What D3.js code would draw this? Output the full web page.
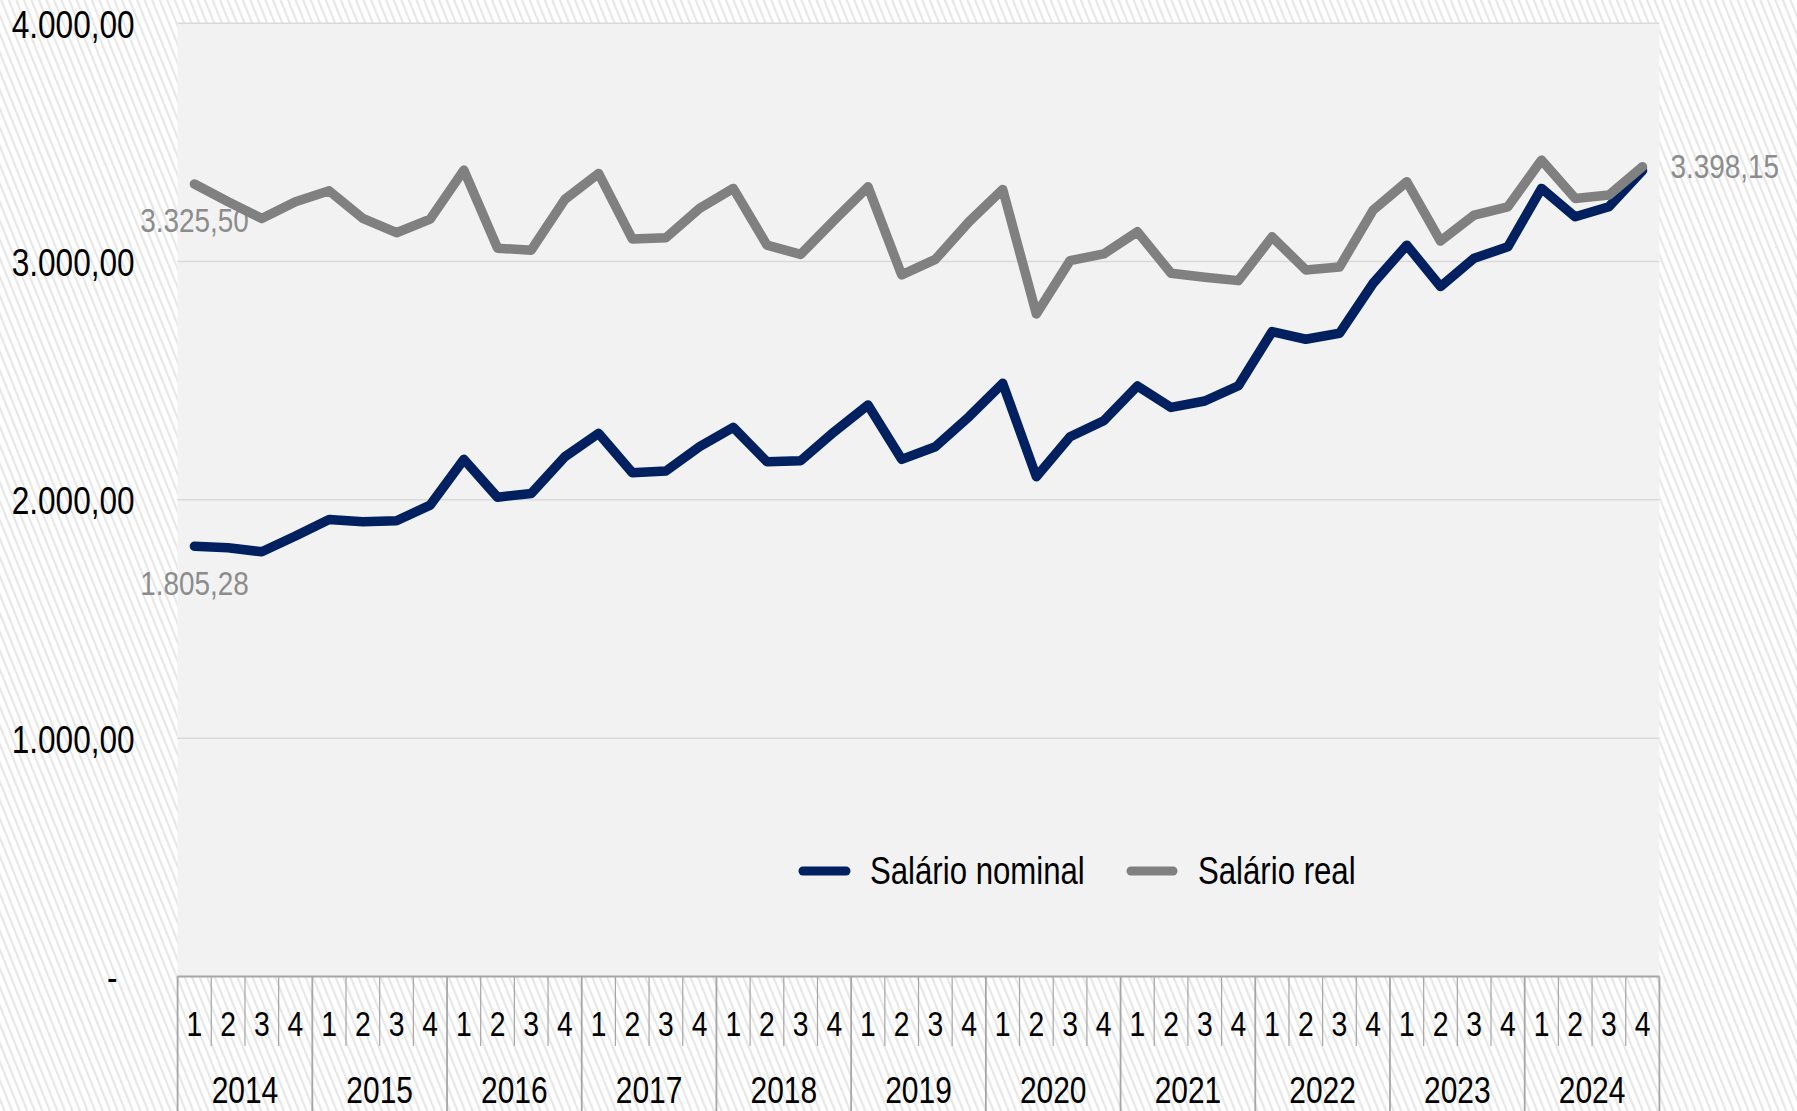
<!DOCTYPE html>
<html>
<head>
<meta charset="utf-8">
<script src="https://cdn.jsdelivr.net/npm/d3@7"></script>
<style>
  html, body { margin: 0; padding: 0; background: #fff; overflow: hidden; }
  svg { display: block; }
</style>
</head>
<body>
<svg id="chart" width="1797" height="1111"></svg>
<script>
// ---------------- DATA ----------------
const years = ["2014","2015","2016","2017","2018","2019","2020","2021","2022","2023","2024"];
const quarters = ["1","2","3","4"];
const salarioNominal = [
  1805.28, 1799, 1782, 1848,
  1918, 1908, 1912, 1978,
  2170, 2011, 2027, 2181,
  2279, 2114, 2121, 2223,
  2304, 2160, 2164, 2286,
  2398, 2170, 2223, 2349,
  2489, 2097, 2265, 2332,
  2478, 2388, 2415, 2479,
  2706, 2674, 2699, 2909,
  3069, 2895, 3014, 3062,
  3307, 3188, 3230, 3382
];
const salarioReal = [
  3325.50, 3251, 3181, 3251,
  3297, 3181, 3121, 3178,
  3384, 3056, 3048, 3261,
  3370, 3095, 3100, 3223,
  3307, 3069, 3030, 3174,
  3314, 2944, 3009, 3167,
  3303, 2780, 3004, 3032,
  3125, 2951, 2934, 2920,
  3104, 2965, 2977, 3216,
  3335, 3086, 3195, 3230,
  3426, 3265, 3279, 3398.15
];
const yTicks = [0, 1000, 2000, 3000, 4000];
const seriesNames = ["Salário nominal", "Salário real"];
const seriesColors = ["#002060", "#808080"];

// ---------------- LAYOUT ----------------
const W = 1797, H = 1111;
const plot = { left: 177.6, right: 1659.4, top: 23.3, bottom: 976.4 };
const FONT = "'Liberation Sans Narrow','Arial Narrow','Liberation Sans',Arial,sans-serif";

const categories = [];
years.forEach(y => quarters.forEach(q => categories.push({ year: y, q: q })));

const svg = d3.select("#chart");

// background hatch
const defs = svg.append("defs");
const pat = defs.append("pattern")
  .attr("id", "hatch")
  .attr("patternUnits", "userSpaceOnUse")
  .attr("width", 7).attr("height", 20)
  .attr("patternTransform", "rotate(-22)");
pat.append("rect").attr("width", 7).attr("height", 20).attr("fill", "#ffffff");
pat.append("rect").attr("width", 2.2).attr("height", 20).attr("fill", "#e7e7e7");
svg.append("rect").attr("width", W).attr("height", H).attr("fill", "url(#hatch)");

// scales
const x = d3.scaleBand().domain(d3.range(categories.length)).range([plot.left, plot.right]).padding(0);
const cx = i => x(i) + x.bandwidth() / 2;
const y = d3.scaleLinear().domain([0, 4000]).range([plot.bottom, plot.top]);

// plot area
svg.append("rect")
  .attr("x", plot.left).attr("y", plot.top)
  .attr("width", plot.right - plot.left).attr("height", plot.bottom - plot.top)
  .attr("fill", "#f2f2f2");

// gridlines
svg.append("g").selectAll("line")
  .data(yTicks.filter(d => d > 0))
  .join("line")
  .attr("x1", plot.left).attr("x2", plot.right)
  .attr("y1", d => y(d)).attr("y2", d => y(d))
  .attr("stroke", "#d9d9d9").attr("stroke-width", 1.5);

// y axis
const loc = d3.formatLocale({ decimal: ",", thousands: ".", grouping: [3], currency: ["R$", ""] });
const fmt = loc.format(",.2f");
const yAxis = svg.append("g")
  .attr("transform", `translate(${plot.left},0)`)
  .call(d3.axisLeft(y).tickValues(yTicks).tickSize(0).tickPadding(43)
    .tickFormat(d => d === 0 ? "-" : fmt(d)));
yAxis.select(".domain").remove();
yAxis.selectAll("text")
  .attr("font-family", FONT).attr("font-size", 38.5).attr("fill", "#000")
  .attr("dy", "0.36em");
yAxis.selectAll(".tick").filter(d => d === 0).select("text").attr("x", -60);

// category table (x axis)
const tableColor = "#a6a6a6";
const tbl = svg.append("g");
tbl.append("line")
  .attr("x1", plot.left).attr("x2", plot.right)
  .attr("y1", plot.bottom).attr("y2", plot.bottom)
  .attr("stroke", tableColor).attr("stroke-width", 2);
// separators
const sepIdx = d3.range(categories.length + 1);
tbl.selectAll("line.sep")
  .data(sepIdx)
  .join("line")
  .attr("class", "sep")
  .attr("x1", i => i < categories.length ? x(i) : plot.right)
  .attr("x2", i => i < categories.length ? x(i) : plot.right)
  .attr("y1", plot.bottom)
  .attr("y2", i => (i % quarters.length === 0) ? H : 1046)
  .attr("stroke", tableColor)
  .attr("stroke-width", i => (i % quarters.length === 0) ? 1.8 : 1.2);
// quarter labels
tbl.selectAll("text.q")
  .data(categories)
  .join("text")
  .attr("class", "q")
  .attr("x", (d, i) => cx(i)).attr("y", 1036)
  .attr("text-anchor", "middle")
  .attr("font-family", FONT).attr("font-size", 34.5).attr("fill", "#000")
  .text(d => d.q);
// year labels
tbl.selectAll("text.yr")
  .data(years)
  .join("text")
  .attr("class", "yr")
  .attr("x", (d, j) => (x(j * 4) + x(j * 4 + 3) + x.bandwidth()) / 2)
  .attr("y", 1103)
  .attr("text-anchor", "middle")
  .attr("font-family", FONT).attr("font-size", 36.5).attr("fill", "#000")
  .text(d => d);

// data labels (under the lines)
const lblColor = "#8c8c8c";
const last = categories.length - 1;
const labels = [
  { x: cx(0), y: y(salarioReal[0]) + 48, anchor: "middle", t: fmt(salarioReal[0]) },
  { x: cx(0), y: y(salarioNominal[0]) + 49, anchor: "middle", t: fmt(salarioNominal[0]) },
  { x: cx(last) + 28, y: y(salarioReal[last]) + 11, anchor: "start", t: fmt(salarioReal[last]) }
];
svg.append("g").selectAll("text")
  .data(labels)
  .join("text")
  .attr("x", d => d.x).attr("y", d => d.y)
  .attr("text-anchor", d => d.anchor)
  .attr("font-family", FONT).attr("font-size", 34).attr("fill", lblColor)
  .text(d => d.t);

// lines
const line = d3.line().x((d, i) => cx(i)).y(d => y(d));
[salarioNominal, salarioReal].forEach((s, k) => {
  svg.append("path")
    .datum(s)
    .attr("d", line)
    .attr("fill", "none")
    .attr("stroke", seriesColors[k])
    .attr("stroke-width", 9.5)
    .attr("stroke-linejoin", "round")
    .attr("stroke-linecap", "round");
});

// legend
const legendItems = [
  { x1: 799, x2: 850, tx: 870 },
  { x1: 1127, x2: 1177, tx: 1198 }
];
const lg = svg.append("g");
seriesNames.forEach((name, k) => {
  const it = legendItems[k];
  lg.append("line")
    .attr("x1", it.x1 + 4).attr("x2", it.x2 - 4)
    .attr("y1", 871).attr("y2", 871)
    .attr("stroke", seriesColors[k]).attr("stroke-width", 9)
    .attr("stroke-linecap", "round");
  lg.append("text")
    .attr("x", it.tx).attr("y", 884)
    .attr("font-family", FONT).attr("font-size", 38).attr("fill", "#000")
    .text(name);
});

// If no narrow font is installed, condense glyphs to mimic Arial Narrow
(function () {
  const t1 = svg.append("text").attr("font-family", FONT).attr("font-size", 100).text("Salário 2014");
  const t2 = svg.append("text").attr("font-family", "'Liberation Sans',Arial,sans-serif").attr("font-size", 100).text("Salário 2014");
  const w1 = t1.node().getComputedTextLength(), w2 = t2.node().getComputedTextLength();
  t1.remove(); t2.remove();
  if (w1 / w2 > 0.92) {
    svg.selectAll("text").each(function () {
      const n = this;
      const L = n.getComputedTextLength();
      if (L > 0) {
        d3.select(n).attr("textLength", L * 0.82).attr("lengthAdjust", "spacingAndGlyphs");
      }
    });
  }
})();
</script>
</body>
</html>
